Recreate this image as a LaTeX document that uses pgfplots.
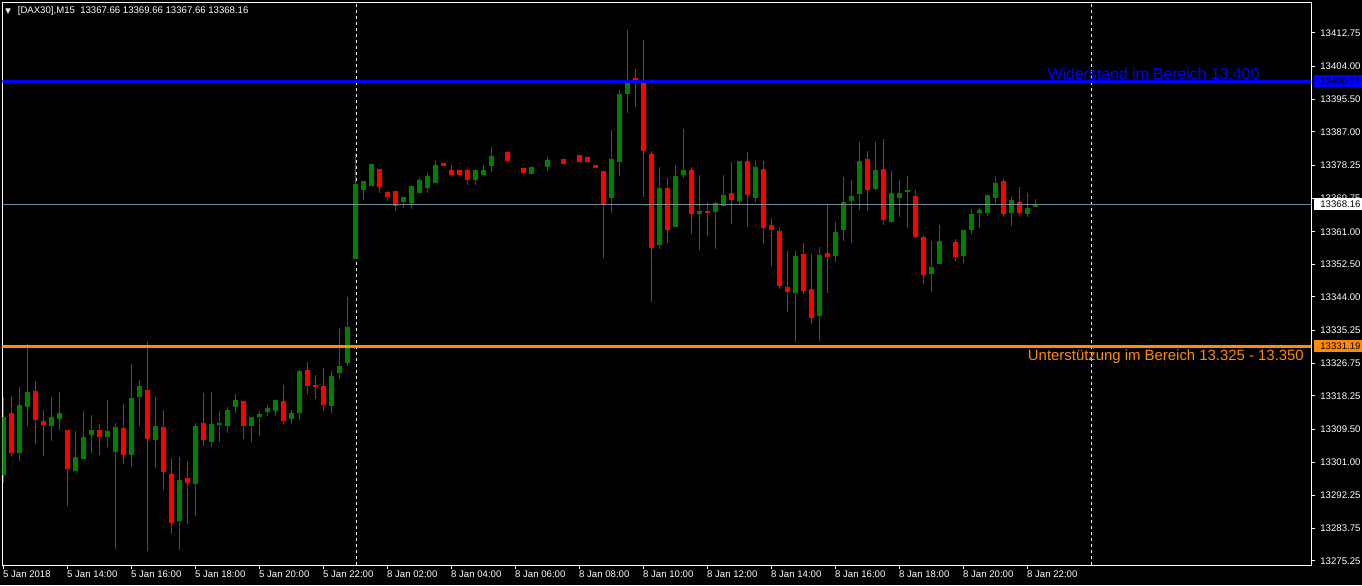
\documentclass[border=0pt]{standalone}
\usepackage{fontspec}
\setmainfont{Liberation Sans}
\newfontfamily\dejavu{DejaVu Sans}
\usepackage{pgfplots}
\usepackage{pgfplotstable}
\pgfplotsset{compat=1.18}
\definecolor{bull}{RGB}{0,128,0}
\definecolor{bear}{RGB}{255,0,0}
\definecolor{resline}{RGB}{0,0,255}
\definecolor{supline}{RGB}{255,140,0}
\definecolor{bidline}{RGB}{119,136,153}

\pgfplotstableread{
k O H L C
0 13297.7 13318.0 13295.6 13313.0
2 13303.4 13320.4 13301.3 13316.1
3 13315.4 13331.8 13310.4 13319.3
6 13310.4 13318.0 13306.5 13312.8
7 13312.2 13319.3 13309.4 13313.8
9 13298.9 13309.1 13298.9 13302.3
10 13301.8 13314.3 13301.8 13307.5
11 13308.1 13313.3 13303.4 13309.6
13 13307.5 13317.2 13305.0 13309.1
14 13303.9 13311.2 13278.4 13310.4
16 13302.8 13326.6 13299.7 13317.7
17 13318.0 13322.4 13310.4 13320.8
19 13306.8 13318.2 13299.5 13310.4
22 13285.7 13302.3 13278.1 13296.6
24 13295.3 13311.2 13287.0 13310.4
26 13306.5 13319.3 13305.0 13311.2
27 13310.7 13314.3 13306.3 13311.2
28 13310.4 13315.4 13308.6 13314.6
29 13315.4 13318.7 13313.8 13317.4
31 13310.4 13313.0 13306.5 13312.8
32 13312.8 13314.3 13307.8 13313.5
33 13314.1 13315.9 13313.0 13315.1
34 13314.3 13317.4 13313.0 13317.2
36 13312.2 13314.6 13311.0 13313.8
37 13313.8 13325.2 13312.0 13324.7
41 13315.6 13324.7 13313.8 13323.4
42 13324.2 13335.9 13322.6 13326.0
43 13326.8 13344.2 13326.0 13336.4
44 13353.9 13381.5 13353.9 13373.4
45 13371.9 13374.2 13369.5 13374.2
46 13372.9 13378.6 13372.9 13378.6
50 13368.7 13370.0 13367.2 13370.0
51 13368.5 13372.9 13366.9 13372.9
52 13371.3 13375.0 13371.3 13374.5
53 13372.4 13376.5 13371.1 13375.5
54 13373.9 13379.7 13373.9 13378.4
59 13374.5 13377.1 13373.2 13377.1
60 13375.8 13378.4 13375.8 13377.1
61 13378.1 13383.1 13376.8 13380.7
66 13376.0 13377.9 13376.0 13377.9
68 13377.9 13380.5 13376.8 13379.9
76 13369.8 13387.5 13365.9 13379.9
77 13379.4 13397.9 13375.5 13396.9
78 13396.9 13413.5 13391.9 13400.1
82 13357.5 13377.9 13356.7 13372.4
84 13362.2 13378.4 13362.2 13375.5
85 13375.8 13387.8 13375.0 13377.1
87 13365.6 13375.8 13356.2 13366.4
89 13366.4 13369.0 13356.7 13368.5
90 13367.9 13375.8 13367.7 13370.6
92 13369.0 13379.4 13368.2 13379.4
94 13369.8 13379.9 13369.0 13377.9
99 13345.0 13356.2 13332.3 13354.7
102 13339.0 13357.0 13332.5 13354.9
104 13354.7 13363.5 13353.1 13361.2
105 13361.4 13375.2 13358.6 13368.7
106 13369.0 13374.5 13358.1 13370.3
107 13370.8 13384.4 13366.9 13379.4
109 13372.4 13384.4 13372.1 13377.1
111 13363.8 13376.8 13363.8 13371.1
112 13370.0 13374.5 13364.8 13371.3
113 13371.3 13375.5 13362.0 13371.9
116 13350.0 13358.6 13345.3 13351.8
117 13352.8 13362.8 13352.8 13358.6
120 13354.7 13361.4 13352.8 13361.4
121 13361.4 13366.9 13360.4 13365.6
122 13365.9 13367.2 13362.0 13366.6
123 13366.1 13370.6 13365.1 13370.6
124 13369.8 13375.5 13368.7 13373.7
126 13366.1 13370.0 13362.5 13369.3
128 13365.6 13371.1 13364.8 13367.4
129 13367.66 13369.66 13367.66 13368.16
}\bulltab

\pgfplotstableread{
k O H L C
1 13313.8 13318.2 13302.7 13303.4
4 13319.5 13322.4 13306.0 13312.0
5 13311.7 13314.6 13302.6 13310.7
8 13309.4 13309.4 13289.6 13299.2
12 13309.4 13311.2 13303.1 13307.5
15 13309.9 13316.1 13300.5 13302.8
18 13319.8 13332.3 13277.9 13307.0
20 13310.2 13314.6 13293.7 13298.4
21 13298.1 13302.1 13282.3 13285.4
23 13296.9 13301.3 13284.9 13295.6
25 13311.2 13319.0 13305.2 13306.8
30 13316.9 13316.9 13307.0 13310.4
35 13316.9 13321.1 13311.2 13311.7
38 13325.2 13327.3 13319.0 13320.8
39 13321.3 13323.7 13317.4 13320.8
40 13320.8 13325.5 13314.3 13315.9
47 13377.3 13377.3 13371.3 13372.6
48 13371.6 13371.6 13369.0 13370.3
49 13371.6 13371.6 13366.4 13367.7
55 13378.9 13378.9 13378.1 13378.1
56 13377.1 13378.4 13375.8 13375.8
57 13377.1 13377.1 13375.8 13375.8
58 13377.1 13377.1 13373.2 13374.5
63 13381.8 13382.0 13379.4 13379.4
65 13377.9 13377.9 13376.5 13376.5
70 13379.9 13379.9 13378.6 13378.6
72 13381.2 13381.2 13379.2 13379.2
73 13380.7 13380.7 13379.2 13379.2
74 13378.4 13378.4 13377.6 13377.6
75 13376.8 13376.8 13354.2 13368.2
79 13401.0 13403.6 13393.5 13399.8
80 13400.0 13410.9 13370.0 13382.0
81 13381.5 13382.0 13342.7 13357.0
83 13372.6 13375.0 13358.1 13361.7
86 13377.1 13377.9 13360.4 13365.6
88 13366.4 13368.7 13359.9 13365.9
91 13371.3 13379.2 13363.0 13369.3
93 13379.4 13381.8 13362.2 13370.6
95 13377.3 13379.4 13357.8 13362.0
96 13362.8 13364.6 13352.1 13361.7
97 13361.4 13362.0 13346.1 13346.9
98 13346.6 13356.0 13340.1 13345.3
100 13355.2 13358.3 13344.8 13345.6
101 13346.1 13355.2 13337.0 13338.5
103 13355.5 13368.2 13345.3 13354.4
108 13379.9 13382.0 13366.4 13371.9
110 13377.3 13385.1 13362.8 13364.1
114 13370.3 13371.9 13359.6 13359.6
115 13359.6 13359.9 13347.4 13349.7
119 13358.3 13359.1 13353.4 13354.4
125 13374.5 13374.7 13364.8 13365.9
127 13369.0 13372.6 13365.4 13365.9
}\beartab

\pgfplotsset{
  wick/.style={only marks, mark=*, mark size=0pt, mark options={draw=none, fill=none}, forget plot,
    error bars/.cd, y dir=both, y explicit, error mark=none,
    error bar style={color=#1, line width=0.5pt}},
  body/.style={only marks, mark=*, mark size=0pt, mark options={draw=none, fill=none}, forget plot,
    error bars/.cd, y dir=both, y explicit, error mark=none,
    error bar style={color=#1, line width=2.5pt}},
}

\begin{document}
\begin{tikzpicture}
\useasboundingbox (0,0) rectangle (681pt,292.5pt);
\fill[black] (0,0) rectangle (681pt,292.5pt);
\begin{axis}[
  at={(1.25pt,10pt)}, anchor=south west,
  scale only axis, width=654.25pt, height=281.25pt,
  xmin=-0.11, xmax=163.45, ymin=13274.2, ymax=13420.69,
  scaled x ticks=false, scaled y ticks=false,
  axis background/.style={fill=black},
  axis line style={white, line width=0.5pt},
  clip mode=individual,
  xtick={0,8,16,24,32,40,48,56,64,72,80,88,96,104,112,120,128},
  xticklabels={5 Jan 2018,5 Jan 14:00,5 Jan 16:00,5 Jan 18:00,5 Jan 20:00,5 Jan 22:00,8 Jan 02:00,8 Jan 04:00,8 Jan 06:00,8 Jan 08:00,8 Jan 10:00,8 Jan 12:00,8 Jan 14:00,8 Jan 16:00,8 Jan 18:00,8 Jan 20:00,8 Jan 22:00},
  ytick={13412.75,13404.00,13395.50,13387.00,13378.25,13369.75,13361.00,13352.50,13344.00,13335.25,13326.75,13318.25,13309.50,13301.00,13292.25,13283.75,13275.25},
  yticklabels={13412.75,13404.00,13395.50,13387.00,13378.25,13369.75,13361.00,13352.50,13344.00,13335.25,13326.75,13318.25,13309.50,13301.00,13292.25,13283.75,13275.25},
  xtick pos=left, ytick pos=right, yticklabel pos=right,
  tick align=outside, major tick length=2pt,
  tick style={white, line width=0.5pt},
  ticklabel style={font=\fontsize{4.8}{5.5}\selectfont, text=white},
  xticklabel style={anchor=north west, inner sep=0pt, xshift=-0.3pt, yshift=-0.6pt},
  yticklabel style={anchor=west, inner sep=0pt, xshift=2.5pt},
  extra x ticks={44.08,136},
  extra x tick labels={},
  extra x tick style={grid=major, major grid style={white, line width=0.5pt, dash pattern=on 1.5pt off 1.5pt}, major tick length=0pt},
]
\addplot[wick=bull] table[x=k, y expr={(\thisrow{H}+\thisrow{L})/2}, y error expr={(\thisrow{H}-\thisrow{L})/2}] {\bulltab};
\addplot[body=bull] table[x=k, y expr={(\thisrow{O}+\thisrow{C})/2}, y error expr={max(abs(\thisrow{C}-\thisrow{O})/2,0.2)}] {\bulltab};
\addplot[wick=bear] table[x=k, y expr={(\thisrow{H}+\thisrow{L})/2}, y error expr={(\thisrow{H}-\thisrow{L})/2}] {\beartab};
\addplot[body=bear] table[x=k, y expr={(\thisrow{O}+\thisrow{C})/2}, y error expr={max(abs(\thisrow{C}-\thisrow{O})/2,0.2)}] {\beartab};

\addplot[bidline, line width=0.5pt, forget plot] coordinates {(-1,13368.16) (170,13368.16)};
\addplot[resline, line width=1.6pt, forget plot] coordinates {(-1,13400.21) (170,13400.21)};
\addplot[supline, line width=1.4pt, forget plot] coordinates {(-1,13331.19) (170,13331.19)};

\node[anchor=base east, text=resline, font=\fontsize{7.9}{9}\selectfont, inner sep=0pt] at (axis cs:157.05,13400.6) {Widerstand im Bereich 13.400};
\node[anchor=base east, text=supline, font=\fontsize{7.45}{9}\selectfont, inner sep=0pt] at (axis cs:162.6,13327.4) {Unterstützung im Bereich 13.325 - 13.350};
\node[anchor=west, text=white, font=\fontsize{4.8}{5.5}\selectfont, inner sep=0pt] at (rel axis cs:0,1) [xshift=1.3pt, yshift=-4.3pt] {{\dejavu\fontsize{3.6}{4}\selectfont\char"25BC}\hspace{3.4pt}[DAX30],M15\ \ 13367.66 13369.66 13367.66 13368.16};

\coordinate (pres) at (axis cs:163.45,13400.21);
\coordinate (pbid) at (axis cs:163.45,13368.16);
\coordinate (psup) at (axis cs:163.45,13331.19);
\end{axis}
\tikzset{pbox/.style={anchor=west, inner xsep=3pt, inner ysep=0pt, minimum height=6pt, text width=21pt, align=left, font=\fontsize{4.8}{5.5}\selectfont, xshift=1.5pt}}
\node[pbox, fill=resline, text=black] at (pres) {13400.21};
\node[pbox, fill=white, text=black] at (pbid) {13368.16};
\node[pbox, fill=supline, text=black] at (psup) {13331.19};
\end{tikzpicture}
\end{document}
